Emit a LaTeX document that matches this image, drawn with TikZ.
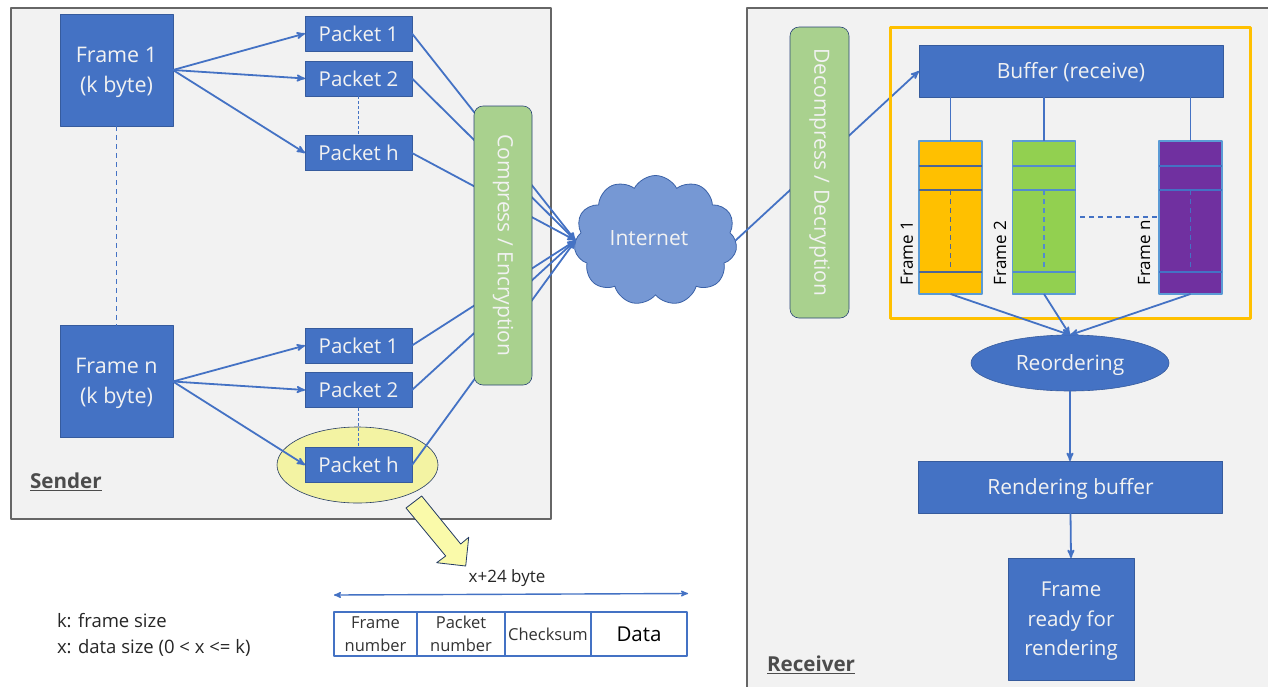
\documentclass[tikz,border=0pt]{standalone}
\usepackage{fontspec}
\setmainfont{Open Sans}
\usetikzlibrary{arrows,shapes.geometric,shapes.symbols}

\definecolor{boxblue}{HTML}{4472C4}
\definecolor{cloudblue}{HTML}{7698D4}
\definecolor{panelgray}{HTML}{F2F2F2}
\definecolor{packgreen}{HTML}{A9D18E}
\definecolor{bufferyellow}{HTML}{FFC000}
\definecolor{stackgreen}{HTML}{92D050}
\definecolor{stackpurple}{HTML}{7030A0}
\definecolor{stackedge}{HTML}{5B9BD5}
\definecolor{markyellow}{HTML}{F3F3A3}

\begin{document}
\begin{tikzpicture}[x=1pt,y=-1pt,>=stealth',line join=round]
  \tikzstyle{every node}=[inner sep=0pt,outer sep=0pt,align=center]
  \tikzstyle{panel}=[fill=panelgray,draw=black!60,line width=1.1pt]
  \tikzstyle{bluebox}=[rectangle,fill=boxblue,draw=boxblue!80!black,line width=.6pt,text=panelgray]
  \tikzstyle{framebox}=[bluebox,minimum width=113,minimum height=112,text depth=1pt,font=\fontsize{21.5}{30}\selectfont]
  \tikzstyle{packetbox}=[bluebox,minimum width=107,minimum height=35,font=\fontsize{20.5}{24}\selectfont]
  \tikzstyle{widebox}=[bluebox,minimum width=304,minimum height=52,text depth=1pt,font=\fontsize{21}{24}\selectfont]
  \tikzstyle{greenbar}=[rectangle,rounded corners=9pt,fill=packgreen,draw=boxblue!60!black,line width=.6pt,text=panelgray,font=\fontsize{21}{26}\selectfont]
  \tikzstyle{stack}=[rectangle,draw=stackedge,line width=1.6pt,minimum width=63,minimum height=153]
  \tikzstyle{cell}=[rectangle,draw=boxblue,line width=1.4pt,fill=white,minimum height=44,text=black!80,font=\fontsize{16.5}{23}\selectfont]
  \tikzstyle{wire}=[boxblue,line width=1.8pt]
  \tikzstyle{arrow}=[wire,->,shorten >=0pt]
  \tikzstyle{dashwire}=[wire,dashed,dash pattern=on 5pt off 4pt]
  \tikzstyle{stacklabel}=[rotate=90,text=black,font=\fontsize{17}{20}\selectfont]
  \tikzstyle{note}=[text=black!85,font=\fontsize{18.5}{22}\selectfont,anchor=west]
  \tikzstyle{side}=[text=black!70,font=\fontsize{20.6}{24}\selectfont\bfseries,anchor=west]

  \useasboundingbox (0,0) rectangle (1268,686);
  \fill[white] (0,0) rectangle (1268,686);

  % panels
  \draw[panel] (11,8) rectangle (551,519);
  \draw[panel] (747,8) rectangle (1280,700);

  % sender
  \node[framebox] (frameA) at (116.5,70) {Frame 1\\(k byte)};
  \node[framebox] (frameN) at (116.5,381.5) {Frame n\\(k byte)};
  \node[draw=boxblue!50!black,line width=.6pt,fill=markyellow,ellipse,minimum width=161,minimum height=76] (mark) at (357.5,465) {};
  \node[packetbox] (pktA) at (358.5,33.5) {Packet 1};
  \node[packetbox] (pktB) at (358.5,78.5) {Packet 2};
  \node[packetbox] (pktH) at (358.5,153) {Packet h};
  \node[packetbox] (pktC) at (358.5,345.5) {Packet 1};
  \node[packetbox] (pktD) at (358.5,390) {Packet 2};
  \node[packetbox] (pktN) at (358.5,465) {Packet h};
  \node[cloud,cloud puffs=11,cloud puff arc=125,aspect=1.25,fill=cloudblue,draw=boxblue!85!black,line width=.8pt,minimum width=163,minimum height=130,text=panelgray,font=\fontsize{21}{24}\selectfont] (internet) at (655.5,240.5) {\raisebox{6pt}{Internet\hspace{13pt}}};

  \draw[dashwire] (frameA) -- (frameN);
  \draw[boxblue,line width=.8pt,dashed,dash pattern=on 3pt off 2pt] (pktB) -- (pktH);
  \draw[boxblue,line width=.8pt,dashed,dash pattern=on 3pt off 2pt] (pktD) -- (pktN);
  \draw[arrow] (frameA.east) -- (pktA.west);
  \draw[arrow] (frameA.east) -- (pktB.west);
  \draw[arrow] (frameA.east) -- (pktH.west);
  \draw[arrow] (frameN.east) -- (pktC.west);
  \draw[arrow] (frameN.east) -- (pktD.west);
  \draw[arrow] (frameN.east) -- (pktN.west);

  \draw[arrow] (pktA.east) -- (internet.west);
  \draw[arrow] (pktB.east) -- (internet.west);
  \draw[arrow] (pktH.east) -- (internet.west);
  \draw[arrow] (pktC.east) -- (internet.west);
  \draw[arrow] (pktD.east) -- (internet.west);
  \draw[arrow] (pktN.east) -- (internet.west);
  \node[greenbar,minimum width=279,minimum height=58,rotate=-90] (compress) at (503,245.5) {Compress / Encryption};

  % receiver
  \node[widebox] (buffer) at (1071,71) {Buffer (receive)};
  \draw[arrow] (internet.east) -- (buffer.west);
  \node[greenbar,minimum width=291,minimum height=59,rotate=-90] (decompress) at (819.5,172.5) {Decompress / Decryption};
  \draw[bufferyellow,line width=3pt] (890,27) rectangle (1250,318);

  \node[stack,fill=bufferyellow] (stackA) at (950.5,217.5) {};
  \node[stack,fill=stackgreen] (stackB) at (1044,217.5) {};
  \node[stack,fill=stackpurple] (stackN) at (1190.5,217.5) {};
  \draw[wire] (buffer.south -| stackA.north) -- (stackA.north);
  \draw[wire] (buffer.south -| stackB.north) -- (stackB.north);
  \draw[wire] (buffer.south -| stackN.north) -- (stackN.north);

  \draw[wire,black!20!boxblue!70!gray] (stackA.west |- 0,166) -- (stackA.east |- 0,166);
  \draw[wire,black!20!boxblue!70!gray] (stackA.west |- 0,190) -- (stackA.east |- 0,190);
  \draw[wire,black!20!boxblue!70!gray] (stackA.west |- 0,272) -- (stackA.east |- 0,272);
  \draw[dashwire,black!20!boxblue!70!gray] (stackA.center |- 0,190) -- (stackA.center |- 0,272);
  \draw[wire,stackedge!60!boxblue] (stackB.west |- 0,166) -- (stackB.east |- 0,166);
  \draw[wire,stackedge!60!boxblue] (stackB.west |- 0,190) -- (stackB.east |- 0,190);
  \draw[wire,stackedge!60!boxblue] (stackB.west |- 0,272) -- (stackB.east |- 0,272);
  \draw[dashwire,stackedge!60!boxblue] (stackB.center |- 0,190) -- (stackB.center |- 0,272);
  \draw[wire] (stackN.west |- 0,166) -- (stackN.east |- 0,166);
  \draw[wire] (stackN.west |- 0,190) -- (stackN.east |- 0,190);
  \draw[wire] (stackN.west |- 0,272) -- (stackN.east |- 0,272);
  \draw[dashwire] (stackN.center |- 0,190) -- (stackN.center |- 0,272);
  \coordinate (gapB) at (1080,217);
  \draw[dashwire] (gapB) -- (stackN.west |- gapB);

  \node[stacklabel] (labelA) at (907,253) {Frame 1};
  \node[stacklabel] (labelB) at (1000,253) {Frame 2};
  \node[stacklabel] (labelN) at (1144,253) {Frame n};

  \node[fill=boxblue,draw=boxblue!80!black,line width=.6pt,ellipse,minimum width=198,minimum height=56,text depth=1pt,text=panelgray,font=\fontsize{21}{24}\selectfont] (reorder) at (1070,363) {Reordering};
  \node[widebox] (render) at (1070.5,487) {Rendering buffer};
  \node[bluebox,minimum width=126,minimum height=122,text depth=0pt,font=\fontsize{20.5}{29.5}\selectfont] (ready) at (1071,619) {Frame\\ready for\\rendering};
  \draw[arrow] (stackA.south) -- (reorder.north);
  \draw[arrow] (stackB.south) -- (reorder.north);
  \draw[arrow] (stackN.south) -- (reorder.north);
  \draw[arrow] (reorder.south) -- (render.north -| reorder.south);
  \draw[arrow] (render.south) -- (ready.north);

  % packet layout
  \fill[markyellow!70!yellow!60!white,draw=boxblue!50!black,line width=.8pt] (406,508) -- (421.7,496) -- (460.7,544) -- (468.7,537.3) -- (465.7,566) -- (436.7,562.7) -- (445.7,556) -- cycle;
  \node[cell,minimum width=83] (cellFrame) at (375.5,634) {Frame\\number};
  \node[cell,minimum width=88] (cellPacket) at (461,634) {Packet\\number};
  \node[cell,minimum width=86] (cellCheck) at (548,634) {Checksum};
  \node[cell,minimum width=96,font=\fontsize{20.5}{24}\selectfont,text=black] (cellData) at (639,634) {Data};
  \coordinate (spanL) at (334,595);
  \coordinate (spanR) at (688,593.5);
  \draw[wire,<->,line width=1.4pt] (spanL) -- (spanR);
  \node[text=black!85,font=\fontsize{17}{20}\selectfont] (spanText) at (507,578) {x+24 byte};

  % texts
  \node[side] (senderText) at (30,482) {\underline{Sender}};
  \node[side] (receiverText) at (767,665) {\underline{Receiver}};
  \node[note] (noteK) at (57,620.5) {k: frame size};
  \node[note] (noteX) at (57,647.5) {x: data size (0 < x <= k)};
\end{tikzpicture}
\end{document}
